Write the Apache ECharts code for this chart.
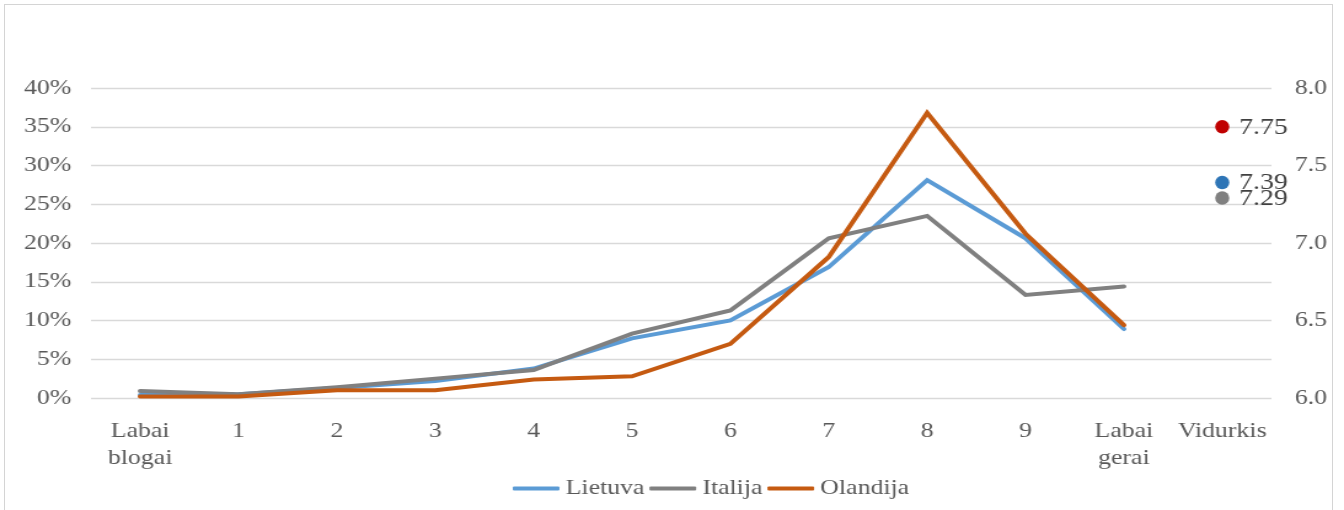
<!DOCTYPE html>
<html>
<head>
<meta charset="utf-8">
<script src="https://cdn.jsdelivr.net/npm/echarts@6/dist/echarts.min.js"></script>
<style>
  html, body { margin: 0; padding: 0; background: #fff; overflow: hidden; }
  #frame { position: absolute; left: 4px; top: 4px; width: 1329px; height: 530px;
           border: 1px solid #d4d4d4; box-sizing: border-box; }
  /* The chart is laid out narrower and widened horizontally, giving the wide serif lettering */
  #chart { position: absolute; left: 0; top: 0; width: 1093px; height: 510px;
           transform: scaleX(1.22964); transform-origin: 0 0; }
</style>
</head>
<body>
<div id="frame"></div>
<div id="chart"></div>
<script>
// Categories of the rating scale, plus the average column
const categories = ['Labai\nblogai', '1', '2', '3', '4', '5', '6', '7', '8', '9', 'Labai\ngerai', 'Vidurkis'];

// Share of answers per rating, in percent
const lietuva  = [0.4, 0.5, 1.3, 2.2, 3.8, 7.7, 10.0, 16.9, 28.1, 20.6, 8.9];
const italija  = [0.9, 0.5, 1.4, 2.5, 3.6, 8.3, 11.3, 20.6, 23.5, 13.3, 14.4];
const olandija = [0.2, 0.2, 1.0, 1.0, 2.4, 2.8, 7.0, 18.2, 36.8, 21.2, 9.4];

// Average rating per country (right axis)
const vidurkiai = { Lietuva: 7.39, Italija: 7.29, Olandija: 7.75 };

// Axis ranges
const pctAxis = { min: 0, max: 40, step: 5 };
const avgAxis = { min: 6, max: 8, step: 0.5 };

const FONT = 'Liberation Serif';
const AXIS_TEXT = '#595959';

const lineColors  = { Lietuva: '#5B9BD5', Italija: '#808080', Olandija: '#C55A11' };
const pointColors = { Lietuva: '#2E75B6', Italija: '#808080', Olandija: '#C00000' };
const values = { Lietuva: lietuva, Italija: italija, Olandija: olandija };
const names = ['Lietuva', 'Italija', 'Olandija'];

const lineSeries = names.map(n => ({
  name: n,
  type: 'line',
  data: values[n],
  symbol: 'none',
  lineStyle: { width: 4, color: lineColors[n], cap: 'round', join: 'miter' },
  itemStyle: { color: lineColors[n] },
  z: 2
}));

const avgCategory = categories[categories.length - 1];
const avgSeries = ['Olandija', 'Lietuva', 'Italija'].map(n => ({
  name: n + ' (vidurkis)',
  type: 'scatter',
  yAxisIndex: 1,
  data: [[avgCategory, vidurkiai[n]]],
  symbol: 'circle',
  symbolSize: [11.5, 13.5],
  itemStyle: { color: pointColors[n], opacity: 1 },
  label: {
    show: true,
    position: 'right',
    distance: 8,
    offset: [0, 1],
    formatter: p => p.value[1].toFixed(2),
    fontFamily: FONT,
    fontSize: 22.5,
    color: '#404040'
  },
  z: 3
}));

const chart = echarts.init(document.getElementById('chart'), null, { renderer: 'canvas' });
chart.setOption({
  animation: false,
  backgroundColor: 'transparent',
  textStyle: { fontFamily: FONT, color: AXIS_TEXT },
  grid: { left: 74, right: 59, top: 88, bottom: 112, containLabel: false },
  legend: {
    data: names,
    left: 412,
    top: 473,
    icon: 'roundRect',
    itemWidth: 38,
    itemHeight: 4,
    itemGap: 4,
    textStyle: { fontFamily: FONT, fontSize: 21, color: AXIS_TEXT }
  },
  xAxis: {
    type: 'category',
    data: categories,
    boundaryGap: true,
    axisLine: { show: false },
    axisTick: { show: false },
    axisLabel: {
      interval: 0,
      margin: 20,
      fontFamily: FONT,
      fontSize: 21,
      lineHeight: 27,
      color: AXIS_TEXT,
      align: 'center'
    }
  },
  yAxis: [
    {
      type: 'value',
      min: pctAxis.min,
      max: pctAxis.max,
      interval: pctAxis.step,
      axisLine: { show: false },
      axisTick: { show: false },
      axisLabel: { formatter: '{value}%', margin: 16, fontFamily: FONT, fontSize: 21, color: AXIS_TEXT },
      splitLine: { show: true, lineStyle: { color: '#d9d9d9', width: 1.4 } }
    },
    {
      type: 'value',
      position: 'right',
      min: avgAxis.min,
      max: avgAxis.max,
      interval: avgAxis.step,
      axisLine: { show: false },
      axisTick: { show: false },
      axisLabel: { formatter: v => v.toFixed(1), margin: 19, fontFamily: FONT, fontSize: 21, color: AXIS_TEXT },
      splitLine: { show: false }
    }
  ],
  series: lineSeries.concat(avgSeries)
});
</script>
</body>
</html>
